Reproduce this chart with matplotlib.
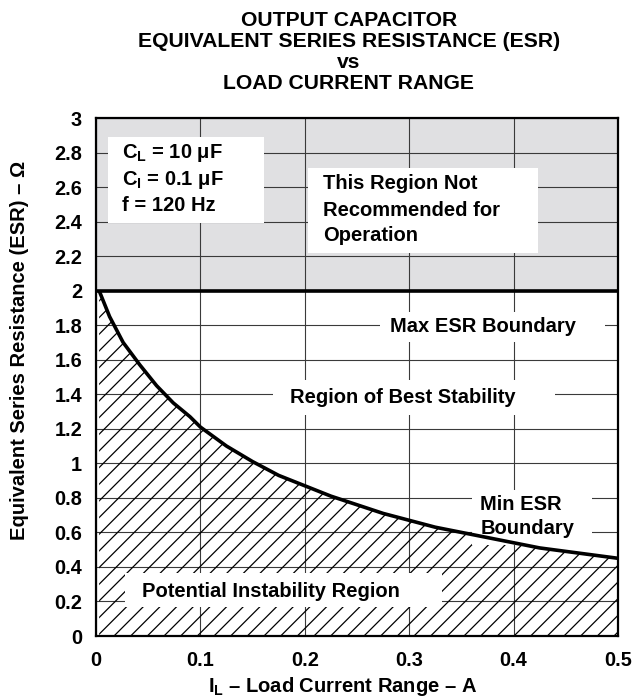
import matplotlib
matplotlib.use('Agg')
import matplotlib.pyplot as plt
from matplotlib.patches import Rectangle

plt.rcParams['font.family'] = ['Liberation Sans', 'DejaVu Sans']
plt.rcParams['font.weight'] = 'bold'
plt.rcParams['mathtext.fontset'] = 'custom'
plt.rcParams['mathtext.rm'] = 'Liberation Sans:bold'
plt.rcParams['mathtext.it'] = 'Liberation Sans:bold'
plt.rcParams['mathtext.bf'] = 'Liberation Sans:bold'
plt.rcParams['hatch.linewidth'] = 0.9

# min ESR boundary
load_current = [0.003, 0.013, 0.026, 0.042, 0.058, 0.074, 0.09, 0.1, 0.125, 0.15,
                0.175, 0.2, 0.225, 0.25, 0.275, 0.3, 0.325, 0.35, 0.375, 0.4,
                0.425, 0.45, 0.475, 0.5]
min_esr = [2.0, 1.85, 1.70, 1.57, 1.45, 1.35, 1.27, 1.21, 1.10, 1.01,
           0.93, 0.87, 0.81, 0.76, 0.71, 0.67, 0.63, 0.60, 0.57, 0.54,
           0.51, 0.49, 0.47, 0.45]
max_esr = 2.0
x_ticks = [0, 0.1, 0.2, 0.3, 0.4, 0.5]
x_ticklabels = ['0', '0.1', '0.2', '0.3', '0.4', '0.5']
y_ticks = [0, 0.2, 0.4, 0.6, 0.8, 1, 1.2, 1.4, 1.6, 1.8, 2, 2.2, 2.4, 2.6, 2.8, 3]
y_ticklabels = ['0', '0.2', '0.4', '0.6', '0.8', '1', '1.2', '1.4', '1.6', '1.8',
                '2', '2.2', '2.4', '2.6', '2.8', '3']

fig = plt.figure(figsize=(6.32, 6.98), dpi=100)
ax = fig.add_axes([96 / 632, 62 / 698, 522 / 632, 518 / 698])
ax.set_xlim(0, 0.5)
ax.set_ylim(0, 3)

# grey "not recommended" band above max ESR
ax.axhspan(max_esr, 3, color='#e0e0e2', zorder=0.2, lw=0)

ax.set_axisbelow(True)
ax.grid(True, color='#3a3a3a', lw=0.8)
ax.set_xticks(x_ticks)
ax.set_xticklabels(x_ticklabels)
ax.set_yticks(y_ticks)
ax.set_yticklabels(y_ticklabels)
ax.tick_params(length=0, labelsize=14.3, pad=10)
ax.tick_params(axis='x', pad=11)
for s in ax.spines.values():
    s.set_linewidth(1.6)
    s.set_zorder(6)

# hatched instability region
ax.fill_between(load_current, 0, min_esr, facecolor='none', hatch='//',
                edgecolor='black', linewidth=0, zorder=2)

def box(x0, x1, y0, y1):
    ax.add_patch(Rectangle((x0, y0), x1 - x0, y1 - y0, facecolor='white',
                           edgecolor='none', zorder=3))

fs = 14.5
box(0.0115, 0.161, 2.391, 2.889)
ax.text(0.025, 2.797, r'C$_{\mathrm{L}}$ = 10 μF', fontsize=fs, va='center', zorder=5)
ax.text(0.025, 2.640, r'C$_{\mathrm{I}}$ = 0.1 μF', fontsize=fs, va='center', zorder=5)
ax.text(0.025, 2.496, 'f = 120 Hz', fontsize=fs, va='center', zorder=5)

box(0.203, 0.423, 2.218, 2.71)
ax.text(0.2175, 2.623, 'This Region Not', fontsize=fs, va='center', zorder=5)
ax.text(0.2175, 2.467, 'Recommended for', fontsize=fs, va='center', zorder=5)
ax.text(0.2175, 2.322, 'Operation', fontsize=fs, va='center', zorder=5)

box(0.272, 0.488, 1.70, 1.876)
ax.text(0.371, 1.79, 'Max ESR Boundary', fontsize=fs, ha='center', va='center', zorder=5)

box(0.170, 0.440, 1.28, 1.48)
ax.text(0.294, 1.38, 'Region of Best Stability', fontsize=fs, ha='center', va='center', zorder=5)

box(0.360, 0.475, 0.527, 0.845)
ax.text(0.368, 0.759, 'Min ESR', fontsize=fs, va='center', zorder=5)
ax.text(0.368, 0.625, 'Boundary', fontsize=fs, va='center', zorder=5)

box(0.028, 0.331, 0.168, 0.365)
ax.text(0.168, 0.26, 'Potential Instability Region', fontsize=fs, ha='center', va='center', zorder=5)

# boundaries
ax.plot([0, 0.5], [max_esr, max_esr], color='black', lw=2.6, zorder=4)
ax.plot(load_current, min_esr, color='black', lw=2.6, zorder=4, solid_capstyle='butt')

# titles and axis labels
title_lines = ['OUTPUT CAPACITOR', 'EQUIVALENT SERIES RESISTANCE (ESR)', 'vs', 'LOAD CURRENT RANGE']
for i, t in enumerate(title_lines):
    fig.text(349 / 632, 1 - (21 + 20.8 * i) / 698, t, fontsize=15.2, ha='center', va='center')

fig.text(343 / 632, 1 - 687 / 698, r'I$_{\mathrm{L}}$ – Load Current Range – A',
         fontsize=14.5, ha='center', va='center')
fig.text(20 / 632, 1 - 350 / 698, 'Equivalent Series Resistance (ESR) – Ω',
         fontsize=14.5, ha='center', va='center', rotation=90)

fig.savefig('out.png', dpi=100)
